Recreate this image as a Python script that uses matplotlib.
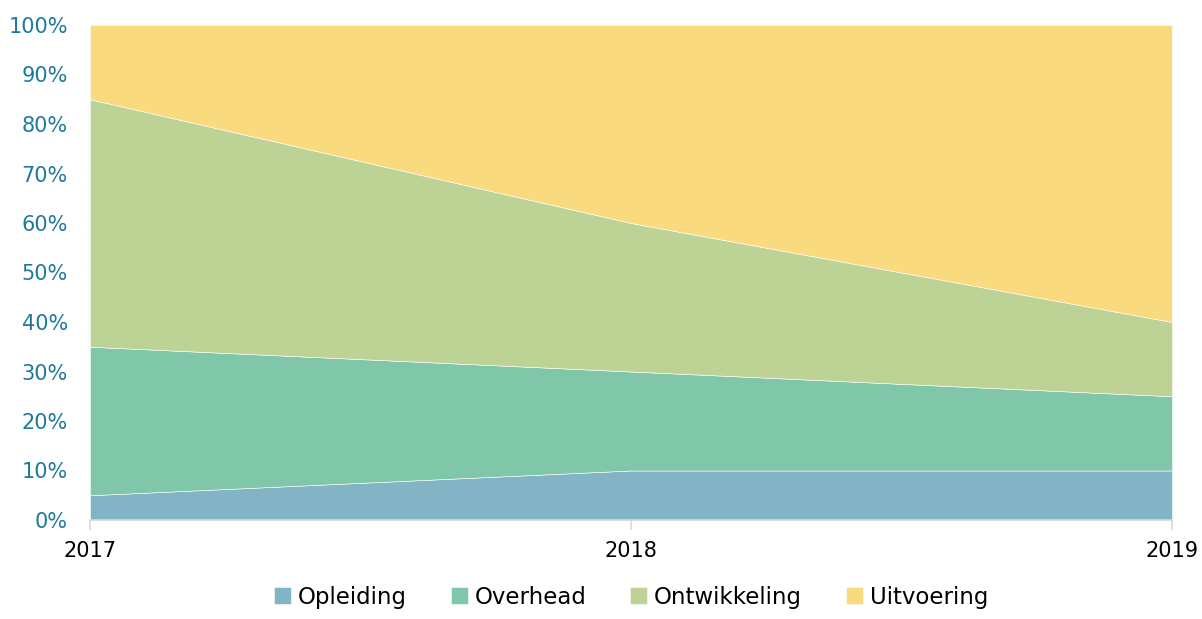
import numpy as np
import matplotlib.pyplot as plt
from matplotlib.ticker import MultipleLocator, FuncFormatter

years = ['2017', '2018', '2019']
opleiding = [5, 10, 10]
overhead = [30, 20, 15]
ontwikkeling = [50, 30, 15]
uitvoering = [15, 40, 60]

labels = ['Opleiding', 'Overhead', 'Ontwikkeling', 'Uitvoering']
colors = ['#82B4C6', '#80C6A8', '#BDD396', '#F9DA7E']

x = np.arange(len(years))

fig = plt.figure(figsize=(12.02, 6.19), dpi=100)
ax = fig.add_axes([90 / 1202, 1 - 520 / 619, (1172 - 90) / 1202, (520 - 25) / 619])

ax.stackplot(x, opleiding, overhead, ontwikkeling, uitvoering,
             colors=colors, labels=labels, edgecolor='white', linewidth=0.4)

ax.set(xlim=(0, 2), ylim=(0, 100))
ax.set_xticks(x)
ax.set_xticklabels(years)
ax.yaxis.set_major_locator(MultipleLocator(10))
ax.yaxis.set_major_formatter(FuncFormatter(lambda v, p: f'{v:.0f}%'))

for s in ['top', 'right', 'left']:
    ax.spines[s].set_visible(False)
ax.spines['bottom'].set_color('#D9D9D9')
ax.spines['bottom'].set_linewidth(1.2)

ax.tick_params(axis='y', length=0, labelsize=15, labelcolor='#1F7A9A', pad=16)
ax.tick_params(axis='x', length=7, width=1.2, color='#D9D9D9', labelsize=15,
               labelcolor='black', pad=8)

ax.legend(loc='upper center', bbox_to_anchor=(0.5, -0.1), ncol=4, frameon=False,
          fontsize=16.5, handlelength=0.75, handleheight=0.75, handletextpad=0.3,
          columnspacing=1.9, borderaxespad=0.3)

fig.savefig('out.png', dpi=100)
